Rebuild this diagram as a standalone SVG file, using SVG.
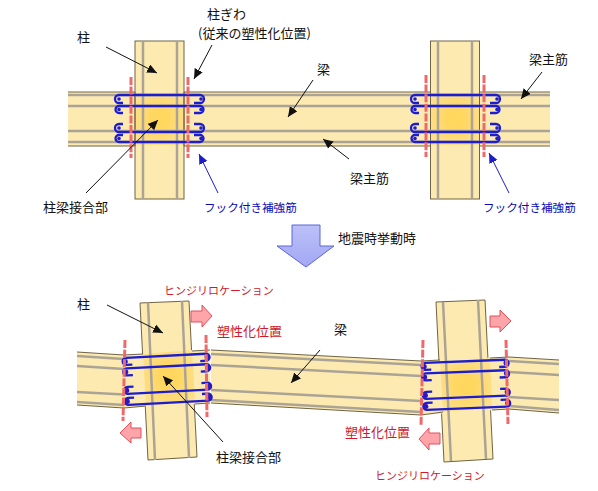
<svg xmlns="http://www.w3.org/2000/svg" width="598" height="491" viewBox="0 0 598 491">
<style>
text{font-family:"Noto Sans CJK JP","Noto Sans",sans-serif;font-size:13px;fill:#111}
.bl{fill:#0a0ab8;font-size:11.6px}
.rd{fill:#d0182c}
.rs{font-size:11px}
.m{fill:#fdeab0;stroke:#6f6444;stroke-width:1}
.b{fill:#fdeab0;stroke:none}
.e{stroke:#6f6444;stroke-width:1;fill:none}
.r{stroke:#aba496;stroke-width:2.500;fill:none}
.h{stroke:#1c1cd0;stroke-width:2.300;fill:none}
.d{stroke:#ee6a6a;stroke-width:3;stroke-dasharray:8 1.6;fill:none}
.a{stroke:#111;stroke-width:1;fill:none;marker-end:url(#ah)}
.ab{stroke:#1c1cc8;stroke-width:1;fill:none;marker-end:url(#ahb)}
.p{fill:#ffa4a8;stroke:#e0505c;stroke-width:1}
</style>
<defs>
<radialGradient id="j" r="0.65"><stop offset="0.25" stop-color="#ffd65e"/><stop offset="1" stop-color="#fde196"/></radialGradient>
<linearGradient id="ba" x1="0" y1="0" x2="0" y2="1"><stop offset="0" stop-color="#bcc0f8"/><stop offset="1" stop-color="#a2a8f4"/></linearGradient>
<marker id="ah" markerUnits="userSpaceOnUse" markerWidth="11" markerHeight="10" refX="10" refY="4.5" orient="auto"><path d="M0 0L10 4.5L0 9Z" fill="#111"/></marker>
<marker id="ahb" markerUnits="userSpaceOnUse" markerWidth="11" markerHeight="10" refX="10" refY="4.5" orient="auto"><path d="M0 0L10 4.5L0 9Z" fill="#1c1cc8"/></marker>
<g id="hp1">
<path class="h" d="M8 8H4A4 4 0 0 1 4 0H85A4 4 0 0 1 85 8H79"/>
<path class="h" d="M8 18H4A3.500 3.500 0 0 1 4 11H85A3.500 3.500 0 0 1 85 18H79"/>
<path class="h" d="M8 29H4A4 4 0 0 0 4 37H85A4 4 0 0 0 85 29H79"/>
<path class="h" d="M8 40H4A3.500 3.500 0 0 0 4 47H85A3.500 3.500 0 0 0 85 40H79"/>
<g fill="#1c1cd0"><circle cx="4" cy="4" r="1.800"/><circle cx="4" cy="14.500" r="1.800"/><circle cx="4" cy="33" r="1.800"/><circle cx="4" cy="43.500" r="1.800"/><circle cx="86" cy="4" r="1.800"/><circle cx="86" cy="14.500" r="1.800"/><circle cx="86" cy="33" r="1.800"/><circle cx="86" cy="43.500" r="1.800"/></g>
</g>
<g id="hp2">
<path class="h" d="M7 7H1A3.500 3.500 0 0 1 1 0H81A3.500 3.500 0 0 1 81 7H75"/>
<path class="h" d="M7 17.500H1A3.500 3.500 0 0 1 1 10.500H81A3.500 3.500 0 0 1 81 17.500H75"/>
<path class="h" d="M7 29H1A3.500 3.500 0 0 0 1 36H81A3.500 3.500 0 0 0 81 29H75"/>
<path class="h" d="M7 40H1A3.500 3.500 0 0 0 1 47H81A3.500 3.500 0 0 0 81 40H75"/>
<g fill="#2a18c0"><circle cx="0" cy="3.500" r="2.600"/><circle cx="0" cy="14" r="2.600"/><circle cx="0" cy="32.500" r="2.600"/><circle cx="0" cy="43.500" r="2.600"/><circle cx="82" cy="3.500" r="2.600"/><circle cx="82" cy="14" r="2.600"/><circle cx="82" cy="32.500" r="2.600"/><circle cx="82" cy="43.500" r="2.600"/></g>
</g>
</defs>
<g id="beam-top">
<rect class="b" x="68" y="92" width="482" height="54"/>
<path class="e" d="M68 92H550M68 146H550"/>
</g>
<g id="column-top-1">
<rect class="m" x="135" y="41" width="49" height="158"/>
<rect x="136" y="93" width="47" height="52" fill="url(#j)"/>
<path class="e" d="M135 92V146M184 92V146"/>
<path class="r" d="M143 41V199M177 41V199"/>
</g>
<g id="column-top-2">
<rect class="m" x="430.500" y="41" width="49" height="158"/>
<rect x="431" y="93" width="48" height="52" fill="url(#j)"/>
<path class="e" d="M430.500 92V146M479.500 92V146"/>
<path class="r" d="M438 41V199M472 41V199"/>
</g>
<g id="beam-top-bars"><path class="r" d="M68 95H550M68 106H550M68 131H550M68 142H550"/></g>
<g id="hoops-top">
<use href="#hp1" x="115" y="95"/>
<use href="#hp1" x="411" y="95"/>
<path class="d" d="M131 77V158M188 77V158M426 75V157M484 75V157"/>
</g>
<g id="beam-bottom">
<path class="b" d="M77 352L124 355V408L77 405Z"/>
<path class="e" d="M77 352L124 355M77 405L124 408"/>
<path class="r" d="M77 356L124 359M77 366L124 369M77 392L124 394.500M77 402L124 405"/>
<path class="b" d="M211 350L421 361V415L211 403Z"/>
<path class="e" d="M211 350L421 361M211 403L421 415"/>
<path class="r" d="M211 354L421 365M211 365L421 376M211 390L421 401M211 400L421 412"/>
<path class="b" d="M509 357L559 360V413L509 409Z"/>
<path class="e" d="M509 357L559 360M509 409L559 413"/>
<path class="r" d="M509 361L559 364M509 372L559 375M509 397L559 400M509 406L559 410"/>
</g>
<g id="column-bottom-1">
<path class="m" d="M140 303L189 301L197 457L148 460Z"/>
<path class="b" d="M124 355L210 350V403L124 408Z"/>
<path d="M143 354L192 350L195 402L146 406Z" fill="url(#j)"/>
<path class="e" d="M124 355L143 354M192 351L210 350M124 408L146 406M195 404L210 403"/>
<path class="r" d="M148 302.500L155 460M182 301L189 458"/>
</g>
<g id="column-bottom-2">
<path class="m" d="M436 302L485 300L493 459L444 462Z"/>
<path class="b" d="M421 361L509 357V409L421 415Z"/>
<path d="M440 362L490 358L492 408L443 412Z" fill="url(#j)"/>
<path class="e" d="M421 361L440 360M490 358L509 357M421 415L443 412M492 410L509 409"/>
<path class="r" d="M443 302L451 461M478 300L486 459"/>
</g>
<g id="hoops-bottom">
<use href="#hp2" transform="translate(125 358) rotate(-3)"/>
<use href="#hp2" transform="translate(424 363) rotate(-2.300)"/>
<path class="d" d="M125 340L123 421M206 335L207 417M423 340L421 426M506 340L508 424"/>
</g>
<g id="connectors">
<path class="a" d="M106 47L157 73"/>
<path class="a" d="M212 45L194 79"/>
<path class="a" d="M313 80L288 117"/>
<path class="a" d="M86 193L158 120"/>
<path class="a" d="M542 72L521 99"/>
<path class="a" d="M349 159L323 139"/>
<path class="ab" d="M218 193L199 154"/>
<path class="ab" d="M509 193L489 153"/>
<path class="a" d="M107 305L163 333"/>
<path class="a" d="M223 442L163 376"/>
<path class="a" d="M320 350L291 383"/>
</g>
<g id="big-arrow"><path d="M292 225H320V246H334L306 267L277 246H292Z" fill="url(#ba)" stroke="#5a66d8"/></g>
<g id="pink-arrows">
<path class="p" d="M191 311H202V305L212 316L202 327V322H191Z"/>
<path class="p" d="M141 428H131V422L120 433L131 443V438H141Z"/>
<path class="p" d="M490 316H500V310L511 321L500 332V327H490Z"/>
<path class="p" d="M440 433H429V428L419 439L429 450V444H440Z"/>
</g>
<g id="labels">
<text x="77" y="42">柱</text>
<text x="207" y="19">柱ぎわ</text>
<text x="198" y="38">(従来の塑性化位置)</text>
<text x="317" y="74">梁</text>
<text x="43" y="212">柱梁接合部</text>
<text class="bl" x="204" y="212">フック付き補強筋</text>
<text class="bl" x="483" y="212">フック付き補強筋</text>
<text x="529" y="64">梁主筋</text>
<text x="350" y="183">梁主筋</text>
<text x="338" y="243">地震時挙動時</text>
<text x="77" y="309">柱</text>
<text class="rd rs" x="164" y="295">ヒンジリロケーション</text>
<text class="rd" x="217" y="336">塑性化位置</text>
<text x="216" y="462">柱梁接合部</text>
<text x="334" y="334">梁</text>
<text class="rd" x="345" y="437">塑性化位置</text>
<text class="rd rs" x="375" y="480">ヒンジリロケーション</text>
</g>
</svg>
